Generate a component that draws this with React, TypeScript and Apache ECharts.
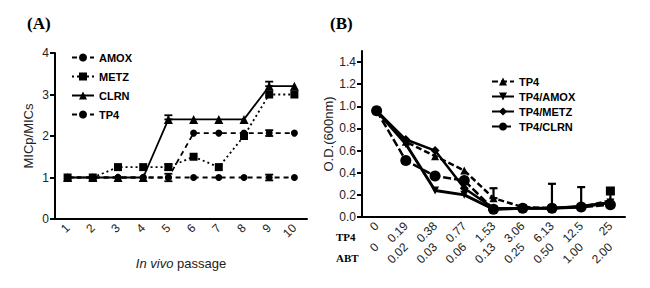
import React, { useEffect, useRef } from "react";
import * as echarts from "echarts";

const passages = ["1", "2", "3", "4", "5", "6", "7", "8", "9", "10"];
const amoxA = [1, 1, 1, 1, 1, 2.07, 2.07, 2.07, 2.07, 2.07];
const metzA = [1, 1, 1.25, 1.25, 1.25, 1.5, 1.25, 2, 3, 3];
const clrnA = [1, 1, 1, 1, 2.4, 2.4, 2.4, 2.4, 3.2, 3.2];
const tp4A = [1, 1, 1, 1, 1, 1, 1, 1, 1, 1];
// [categoryIndex, low, high]
const errA = [
  [4, 2.4, 2.5],
  [8, 3.2, 3.31],
  [4, 0.91, 1.09],
  [8, 0.93, 1.07],
  [8, 2.0, 2.14],
  [4, 1.18, 1.32],
];

const tp4Conc = ["0", "0.19", "0.38", "0.77", "1.53", "3.06", "6.13", "12.5", "25"];
const abtConc = ["0", "0.02", "0.03", "0.06", "0.13", "0.25", "0.50", "1.00", "2.00"];
const tp4B = [0.96, 0.68, 0.55, 0.42, 0.17, 0.09, 0.08, 0.09, 0.15];
const amoxB = [0.96, 0.66, 0.24, 0.2, 0.07, 0.08, 0.08, 0.09, 0.13];
const metzB = [0.96, 0.7, 0.6, 0.26, 0.08, 0.08, 0.08, 0.1, 0.13];
const clrnB = [0.96, 0.51, 0.37, 0.33, 0.07, 0.08, 0.08, 0.09, 0.11];
const errB = [
  [4, 0.17, 0.26],
  [6, 0.08, 0.3],
  [7, 0.09, 0.27],
];
const errBsquare = [[8, 0.13, 0.235]];

const SANS = "Arial, 'Liberation Sans', sans-serif";
const SERIF = "'Times New Roman', 'Liberation Serif', serif";

function errorSeries(name: string, data: number[][], axisIndex: number, lw: number, squareCap = false) {
  return {
    type: "custom",
    name,
    xAxisIndex: axisIndex === 0 ? 0 : 1,
    yAxisIndex: axisIndex,
    data,
    z: 1,
    encode: { x: 0, y: [1, 2] },
    renderItem: (params: any, api: any) => {
      const x = api.value(0);
      const lo = api.coord([x, api.value(1)]);
      const hi = api.coord([x, api.value(2)]);
      const w = 4;
      const style = { stroke: "#000", lineWidth: lw };
      const children: any[] = [
        { type: "line", shape: { x1: lo[0], y1: lo[1], x2: hi[0], y2: hi[1] }, style },
      ];
      if (squareCap) {
        children.push({
          type: "rect",
          shape: { x: hi[0] - 4.5, y: hi[1] - 4.5, width: 9, height: 9 },
          style: { fill: "#000" },
        });
      } else {
        children.push(
          { type: "line", shape: { x1: hi[0] - w, y1: hi[1], x2: hi[0] + w, y2: hi[1] }, style },
          { type: "line", shape: { x1: lo[0] - w, y1: lo[1], x2: lo[0] + w, y2: lo[1] }, style }
        );
      }
      return { type: "group", children };
    },
  };
}

function lineSeries(
  name: string,
  data: number[],
  axisIndex: number,
  type: any,
  width: number,
  symbol: string,
  size: number,
  rotate = 0
) {
  return {
    type: "line",
    name,
    data,
    xAxisIndex: axisIndex === 0 ? 0 : 1,
    yAxisIndex: axisIndex,
    symbol,
    symbolSize: size,
    symbolRotate: rotate,
    showAllSymbol: true,
    z: 3,
    lineStyle: { color: "#000", width, type },
    itemStyle: { color: "#000" },
  };
}

export default function App() {
  const ref = useRef<HTMLDivElement>(null);
  useEffect(() => {
    if (!ref.current) return;
    const chart = echarts.init(ref.current, undefined, { renderer: "svg" });
    const axisLine = { lineStyle: { color: "#000", width: 2 } };
    const axisTick = { lineStyle: { color: "#000", width: 2 }, length: 5 };
    const lbl = { color: "#222", fontFamily: SANS, fontSize: 12 };
    chart.setOption({
      animation: false,
      backgroundColor: "#fff",
      textStyle: { fontFamily: SANS },
      grid: [
        { left: 55, top: 53, width: 252, height: 166 },
        { left: 362, top: 51, width: 263, height: 166 },
      ],
      xAxis: [
        {
          gridIndex: 0,
          type: "category",
          data: passages,
          axisLine,
          axisTick: { ...axisTick, alignWithLabel: true },
          axisLabel: { ...lbl, rotate: 45, margin: 7 },
          name: "{i|In vivo} passage",
          nameLocation: "middle",
          nameGap: 38,
          nameTextStyle: {
            color: "#222",
            fontFamily: SANS,
            fontSize: 13,
            rich: { i: { fontStyle: "italic", fontFamily: SANS, fontSize: 13, color: "#222" } },
          },
        },
        {
          gridIndex: 1,
          type: "category",
          data: tp4Conc,
          axisLine,
          axisTick: { ...axisTick, alignWithLabel: true },
          axisLabel: { ...lbl, rotate: 45, margin: 7 },
        },
        {
          gridIndex: 1,
          type: "category",
          data: abtConc,
          position: "bottom",
          offset: 21,
          axisLine: { show: false },
          axisTick: { show: false },
          axisLabel: { ...lbl, rotate: 45, margin: 7 },
        },
      ],
      yAxis: [
        {
          gridIndex: 0,
          type: "value",
          min: 0,
          max: 4,
          interval: 1,
          splitLine: { show: false },
          axisLine: { show: true, ...axisLine },
          axisTick: { show: true, ...axisTick },
          axisLabel: { ...lbl, margin: 6 },
          name: "MICp/MICs",
          nameLocation: "middle",
          nameGap: 20,
          nameTextStyle: { color: "#222", fontFamily: SANS, fontSize: 13 },
        },
        {
          gridIndex: 1,
          type: "value",
          min: 0,
          max: 1.5,
          interval: 0.2,
          splitLine: { show: false },
          axisLine: { show: true, ...axisLine },
          axisTick: { show: true, ...axisTick },
          axisLabel: {
            ...lbl,
            margin: 6,
            showMaxLabel: false,
            formatter: (v: number) => v.toFixed(1),
          },
          name: "O.D.(600nm)",
          nameLocation: "middle",
          nameGap: 27,
          nameTextStyle: { color: "#222", fontFamily: SANS, fontSize: 13 },
        },
      ],
      legend: [
        {
          orient: "vertical",
          left: 66,
          top: 47,
          itemWidth: 22,
          itemHeight: 10,
          itemGap: 8,
          data: ["AMOX", "METZ", "CLRN", "TP4"],
          textStyle: { fontFamily: SANS, fontSize: 11, fontWeight: "bold", color: "#000" },
        },
        {
          orient: "vertical",
          left: 486,
          top: 71,
          itemWidth: 22,
          itemHeight: 10,
          itemGap: 4,
          data: ["TP4/TP4", "TP4/AMOX", "TP4/METZ", "TP4/CLRN"],
          formatter: (n: string) => (n === "TP4/TP4" ? "TP4" : n),
          textStyle: { fontFamily: SANS, fontSize: 11, fontWeight: "bold", color: "#000" },
        },
      ],
      graphic: [
        {
          type: "text",
          left: 27,
          top: 15,
          style: { text: "(A)", font: `bold 17px ${SERIF}`, fill: "#000" },
        },
        {
          type: "text",
          left: 330,
          top: 15,
          style: { text: "(B)", font: `bold 17px ${SERIF}`, fill: "#000" },
        },
        {
          type: "text",
          left: 336,
          top: 231,
          style: { text: "TP4", font: `bold 11px ${SERIF}`, fill: "#000" },
        },
        {
          type: "text",
          left: 336,
          top: 252,
          style: { text: "ABT", font: `bold 11px ${SERIF}`, fill: "#000" },
        },
      ],
      series: [
        lineSeries("AMOX", amoxA, 0, [5, 4], 1.8, "circle", 7),
        lineSeries("METZ", metzA, 0, [2, 3], 1.8, "rect", 8),
        lineSeries("CLRN", clrnA, 0, "solid", 1.8, "triangle", 9),
        lineSeries("TP4", tp4A, 0, [5, 4], 1.8, "circle", 7),
        errorSeries("errA", errA, 0, 1.8),
        lineSeries("TP4/TP4", tp4B, 1, [6, 3], 2.5, "triangle", 8),
        lineSeries("TP4/AMOX", amoxB, 1, "solid", 3, "triangle", 8, 180),
        lineSeries("TP4/METZ", metzB, 1, "solid", 2.5, "diamond", 9),
        lineSeries("TP4/CLRN", clrnB, 1, [8, 3], 2.5, "circle", 11),
        errorSeries("errB", errB, 1, 2.2),
        errorSeries("errBsq", errBsquare, 1, 2.2, true),
      ],
    });
    return () => chart.dispose();
  }, []);
  return (
    <div
      ref={ref}
      style={{ position: "absolute", left: 0, top: 0, width: 650, height: 288 }}
    />
  );
}
